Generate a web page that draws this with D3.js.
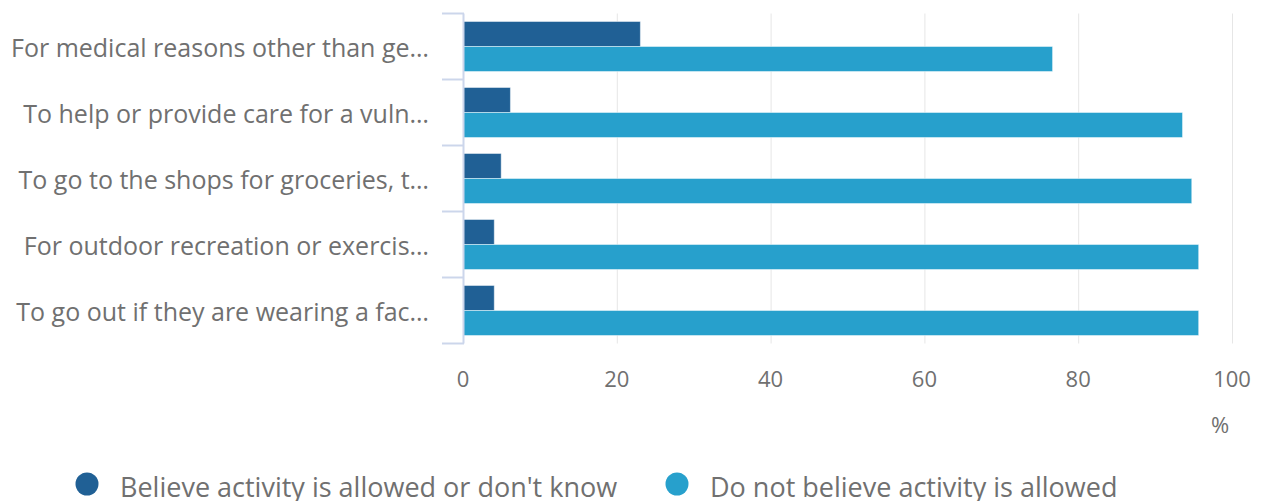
<!DOCTYPE html>
<html>
<head>
<meta charset="utf-8">
<script src="https://cdn.jsdelivr.net/npm/d3@7"></script>
<style>
  html, body { margin: 0; padding: 0; background: #fff; }
  svg { display: block; font-family: "Open Sans", sans-serif; }
</style>
</head>
<body>
<svg id="chart" width="1261" height="501"></svg>
<script>
const categories = [
  "For medical reasons other than ge…",
  "To help or provide care for a vuln…",
  "To go to the shops for groceries, t…",
  "For outdoor recreation or exercis…",
  "To go out if they are wearing a fac…"
];
const seriesNames = ["Believe activity is allowed or don't know", "Do not believe activity is allowed"];
const believeAllowed = [23.0, 6.1, 4.9, 4.0, 4.0];
const notAllowed = [76.6, 93.5, 94.7, 95.6, 95.6];
const xTicks = [0, 20, 40, 60, 80, 100];
const colors = ["#206095", "#27a0cc"];

const svg = d3.select("#chart");
const textColor = "#707070";

const x = d3.scaleLinear().domain([0, 100]).range([463, 1232]);
const y = d3.scaleBand().domain(categories).range([13.5, 343.5]).paddingInner(0).paddingOuter(0);
const ySub = d3.scaleBand().domain([0, 1]).range([8, y.bandwidth() - 8]);

// gridlines
svg.append("g").selectAll("line").data(xTicks.filter(d => d > 0)).join("line")
  .attr("x1", d => x(d) + 0.5).attr("x2", d => x(d) + 0.5)
  .attr("y1", 13.5).attr("y2", 343.5)
  .attr("stroke", "#e6e6e6").attr("stroke-width", 1);

// bars
const data = categories.map((c, i) => ({ c, vals: [believeAllowed[i], notAllowed[i]] }));
const groups = svg.append("g").selectAll("g").data(data).join("g")
  .attr("transform", d => `translate(0,${y(d.c)})`);
groups.selectAll("rect").data(d => d.vals.map((v, k) => ({ v, k }))).join("rect")
  .attr("x", x(0) + 0.5)
  .attr("y", d => ySub(d.k))
  .attr("width", d => x(d.v) - x(0))
  .attr("height", ySub.bandwidth())
  .attr("fill", d => colors[d.k])
  .attr("stroke", "rgba(255,255,255,0.45)")
  .attr("stroke-width", 1);

// y axis line and ticks
const axisColor = "#ccd6eb";
svg.append("line").attr("x1", x(0) + 0.5).attr("x2", x(0) + 0.5)
  .attr("y1", 13.5).attr("y2", 343.5)
  .attr("stroke", axisColor).attr("stroke-width", 2);
const boundaries = categories.map(c => y(c)).concat([y.range()[1]]);
svg.append("g").selectAll("line").data(boundaries).join("line")
  .attr("x1", 442).attr("x2", x(0) + 1)
  .attr("y1", d => d).attr("y2", d => d)
  .attr("stroke", axisColor).attr("stroke-width", 2);

// category labels
svg.append("g").selectAll("text").data(categories).join("text")
  .attr("x", 429)
  .attr("y", d => y(d) + y.bandwidth() / 2 + 10)
  .attr("text-anchor", "end")
  .attr("fill", textColor)
  .attr("font-size", 25)
  .text(d => d);

// x tick labels
svg.append("g").selectAll("text").data(xTicks).join("text")
  .attr("x", d => x(d))
  .attr("y", 387)
  .attr("text-anchor", "middle")
  .attr("fill", textColor)
  .attr("font-size", 22)
  .text(d => d);

// unit label
svg.append("text").attr("x", 1220).attr("y", 433)
  .attr("text-anchor", "middle").attr("fill", textColor)
  .attr("font-size", 22).text("%");

// legend
const legendX = [87, 677];
const lg = svg.append("g").selectAll("g").data(seriesNames).join("g")
  .attr("transform", (d, i) => `translate(${legendX[i]},484)`);
lg.append("circle").attr("r", 11.5).attr("fill", (d, i) => colors[i]);
lg.append("text").attr("x", 33).attr("y", 13)
  .attr("fill", textColor).attr("font-size", 27)
  .text(d => d);
</script>
</body>
</html>
